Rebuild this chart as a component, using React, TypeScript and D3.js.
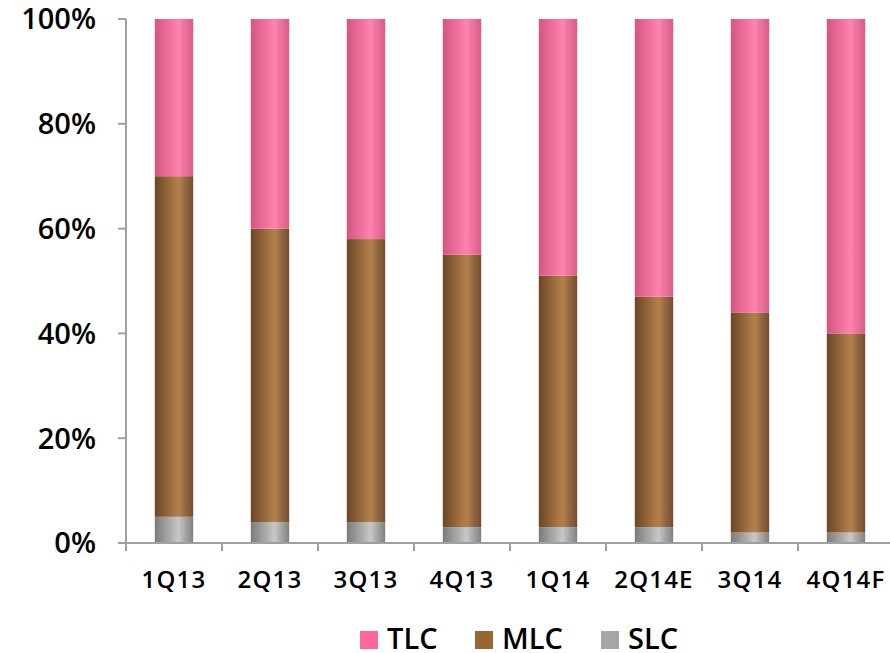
import React from "react";
import * as d3 from "d3";

const quarters = ["1Q13", "2Q13", "3Q13", "4Q13", "1Q14", "2Q14E", "3Q14", "4Q14F"];
const slc = [5, 4, 4, 3, 3, 3, 2, 2];
const mlc = [65, 56, 54, 52, 48, 44, 42, 38];
const tlc = [30, 40, 42, 45, 49, 53, 56, 60];
const yTicks = [0, 20, 40, 60, 80, 100];
const seriesNames = ["SLC", "MLC", "TLC"];
const legendOrder = ["TLC", "MLC", "SLC"];

const W = 890;
const H = 653;
const left = 126;
const top = 19;
const bottom = 543;
const bandW = 96;

const colors: Record<string, { base: string; dark: string; light: string }> = {
  TLC: { base: "#ff6699", dark: "#d4557f", light: "#ff82b0" },
  MLC: { base: "#996633", dark: "#6b4523", light: "#b5824e" },
  SLC: { base: "#a6a6a6", dark: "#7a7a7a", light: "#c8c8c8" },
};

export default function App() {
  const x = d3
    .scaleBand<string>()
    .domain(quarters)
    .range([left, left + bandW * quarters.length])
    .paddingInner(0.6)
    .paddingOuter(0.3);
  const y = d3.scaleLinear().domain([0, 100]).range([bottom, top]);

  const rows = quarters.map((q, i) => ({ q, SLC: slc[i], MLC: mlc[i], TLC: tlc[i] }));
  const stacked = d3.stack<any>().keys(seriesNames)(rows);

  const font = "'Open Sans', 'DejaVu Sans', sans-serif";
  const axisColor = "#a0a0a0";

  return (
    <svg width={W} height={H} style={{ position: "absolute", left: 0, top: 0, background: "#fff" }}>
      <defs>
        {seriesNames.map((k) => (
          <linearGradient key={k} id={`grad-${k}`} x1="0" x2="1" y1="0" y2="0">
            <stop offset="0" stopColor={colors[k].dark} />
            <stop offset="0.62" stopColor={colors[k].light} />
            <stop offset="1" stopColor={colors[k].dark} stopOpacity={0.95} />
          </linearGradient>
        ))}
      </defs>

      {stacked.map((layer) =>
        layer.map((d, i) => (
          <rect
            key={`${layer.key}-${i}`}
            x={x(quarters[i])}
            y={y(d[1])}
            width={x.bandwidth()}
            height={y(d[0]) - y(d[1])}
            fill={`url(#grad-${layer.key})`}
          />
        ))
      )}

      {/* y axis */}
      <line x1={left} x2={left} y1={top} y2={bottom} stroke={axisColor} strokeWidth={2} />
      {yTicks.map((t) => (
        <g key={t}>
          <line x1={left - 8} x2={left} y1={y(t)} y2={y(t)} stroke={axisColor} strokeWidth={2} />
          <text
            x={96}
            y={y(t)}
            dy="0.36em"
            textAnchor="end"
            fontFamily={font}
            fontWeight={600}
            fontSize={29}
            fill="#000"
          >
            {t}%
          </text>
        </g>
      ))}

      {/* x axis */}
      <line x1={left - 8} x2={W} y1={bottom} y2={bottom} stroke={axisColor} strokeWidth={2} />
      {quarters.map((q, i) => (
        <g key={q}>
          <line
            x1={left + i * bandW}
            x2={left + i * bandW}
            y1={bottom}
            y2={bottom + 8}
            stroke={axisColor}
            strokeWidth={2}
          />
          <text
            x={(x(q) as number) + x.bandwidth() / 2}
            y={588}
            textAnchor="middle"
            fontFamily={font}
            fontWeight={600}
            fontSize={24}
            letterSpacing={1.2}
            fill="#000"
          >
            {q}
          </text>
        </g>
      ))}

      {/* legend */}
      {legendOrder.map((k, i) => {
        const lx = [360, 475, 601][i];
        return (
          <g key={k}>
            <rect x={lx} y={631} width={18} height={18} fill={colors[k].base} />
            <text
              x={lx + 27}
              y={649}
              fontFamily={font}
              fontWeight={600}
              fontSize={29}
              fill="#000"
            >
              {k}
            </text>
          </g>
        );
      })}
    </svg>
  );
}
